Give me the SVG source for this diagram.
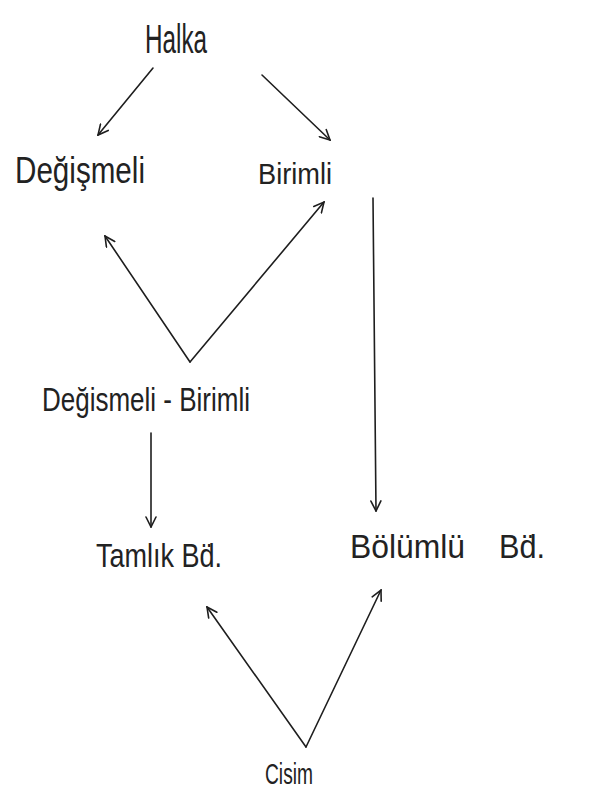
<svg xmlns="http://www.w3.org/2000/svg" width="592" height="791" viewBox="0 0 592 791">
<style>
.lbl{font-family:"Liberation Sans","DejaVu Sans",sans-serif;fill:#222;font-weight:normal}
.edge{stroke:#1e1e1e;stroke-width:1.6;fill:none;stroke-linecap:round}
</style>
<defs>
<marker id="ah" viewBox="0 0 12 12" refX="11" refY="6" markerWidth="12" markerHeight="12" markerUnits="userSpaceOnUse" orient="auto">
<path d="M1,1 L11,6 L1,11" fill="none" stroke="#1e1e1e" stroke-width="1.6" stroke-linecap="round"/>
</marker>
</defs>
<rect width="592" height="791" fill="#ffffff"/>
<g id="connectors">
<line class="edge" x1="153" y1="68" x2="98" y2="135" marker-end="url(#ah)"/>
<line class="edge" x1="262" y1="75" x2="330" y2="140" marker-end="url(#ah)"/>
<polyline class="edge" points="190,362 105,236" marker-end="url(#ah)"/>
<polyline class="edge" points="190,362 324,202" marker-end="url(#ah)"/>
<line class="edge" x1="373" y1="198" x2="376" y2="511" marker-end="url(#ah)"/>
<line class="edge" x1="151" y1="433" x2="151" y2="527" marker-end="url(#ah)"/>
<polyline class="edge" points="306,747 207,607" marker-end="url(#ah)"/>
<polyline class="edge" points="306,747 381,590" marker-end="url(#ah)"/>
</g>
<g id="halka"><text class="lbl" x="145" y="53" font-size="40" textLength="62" lengthAdjust="spacingAndGlyphs">Halka</text></g>
<g id="degismeli"><text class="lbl" x="15" y="183" font-size="36" textLength="130" lengthAdjust="spacingAndGlyphs">Değişmeli</text></g>
<g id="birimli"><text class="lbl" x="258" y="184" font-size="29" textLength="74" lengthAdjust="spacingAndGlyphs">Birimli</text></g>
<g id="degismeli-birimli"><text class="lbl" x="42" y="411" font-size="33" textLength="208" lengthAdjust="spacingAndGlyphs">Değismeli - Birimli</text></g>
<g id="tamlik"><text class="lbl" x="96" y="567" font-size="34" textLength="126" lengthAdjust="spacingAndGlyphs">Tamlık Bd̈.</text></g>
<g id="bolumlu"><text class="lbl" x="350" y="558" font-size="34" textLength="115" lengthAdjust="spacingAndGlyphs">Bölümlü</text><text class="lbl" x="499" y="558" font-size="34" textLength="46" lengthAdjust="spacingAndGlyphs">Bd̈.</text></g>
<g id="cisim"><text class="lbl" x="265" y="784" font-size="29" textLength="48" lengthAdjust="spacingAndGlyphs">Cisim</text></g>
</svg>
